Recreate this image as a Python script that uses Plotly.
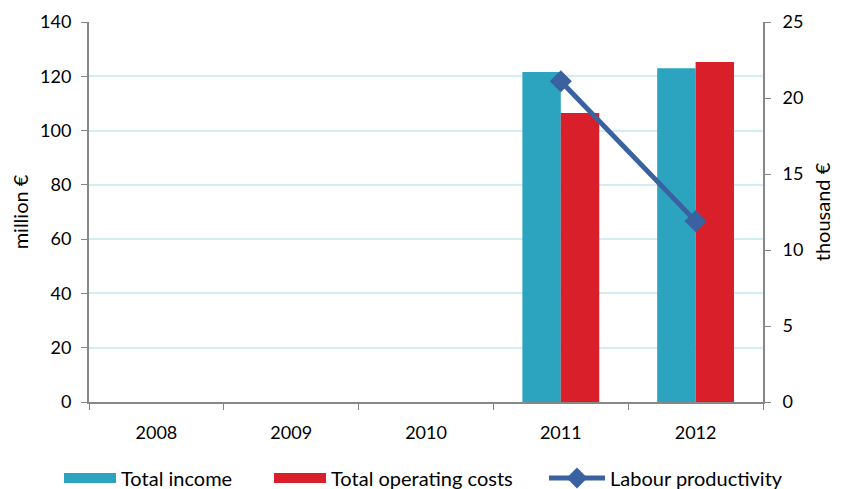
import plotly.graph_objects as go

# data
years = ["2008", "2009", "2010", "2011", "2012"]
total_income = [None, None, None, 121.6, 123.0]
total_operating_costs = [None, None, None, 106.5, 125.3]
labour_productivity = [None, None, None, 21.1, 11.9]

FONT = "Lato, Open Sans, sans-serif"
AXIS_GREY = "#878787"
TEAL = "#2CA3BF"
RED = "#D91F2A"
BLUE = "#3A62A0"

income = go.Bar(
    name="Total income",
    x=years,
    y=total_income,
    marker=dict(color=TEAL, line=dict(width=0)),
    showlegend=False,
)

costs = go.Bar(
    name="Total operating costs",
    x=years,
    y=total_operating_costs,
    marker=dict(color=RED, line=dict(width=0)),
    showlegend=False,
)

productivity = go.Scatter(
    name="Labour productivity",
    x=years,
    y=labour_productivity,
    yaxis="y2",
    mode="lines+markers",
    line=dict(color=BLUE, width=5),
    marker=dict(symbol="diamond", size=17, color=BLUE),
    legend="legend3",
)

# legend-only entries so the bar swatches are wide flat rectangles like the original
income_key = go.Scatter(
    name="Total income", x=[None], y=[None], mode="lines",
    line=dict(color=TEAL, width=12), legend="legend",
)
costs_key = go.Scatter(
    name="Total operating costs", x=[None], y=[None], mode="lines",
    line=dict(color=RED, width=12), legend="legend2",
)

# page has an 8px body margin, so the figure is drawn 8px in from top-left
# plot area on screen: x 89..763, y 22..402
PW, PH = 674, 380


def legend_at(symbol_px, width):
    # symbol_px = where the legend symbol should start on screen
    return dict(
        x=(symbol_px - 8 - 89) / PW,
        xanchor="left",
        y=(402 - 478) / PH,
        yanchor="middle",
        orientation="h",
        font=dict(size=20, family=FONT),
        bgcolor="rgba(0,0,0,0)",
        itemwidth=width,
    )


tick_font = dict(family=FONT, size=18, color="black")

layout = go.Layout(
    width=834,
    height=481,
    margin=dict(l=81, r=79, t=14, b=87, autoexpand=False),
    plot_bgcolor="white",
    paper_bgcolor="white",
    font=dict(family=FONT, size=17, color="black"),
    showlegend=True,
    barmode="group",
    bargap=0.43,
    bargroupgap=0,
    xaxis=dict(
        showgrid=False,
        zeroline=False,
        showline=True,
        linecolor=AXIS_GREY,
        linewidth=2,
        ticks="outside",
        tickson="boundaries",
        ticklen=6,
        tickcolor=AXIS_GREY,
        tickwidth=1,
        tickfont=tick_font,
        ticklabelstandoff=13,
        automargin=False,
    ),
    yaxis=dict(
        title=dict(text="million €", standoff=8),
        range=[0, 140],
        dtick=20,
        showgrid=True,
        gridcolor="#D3EDF4",
        gridwidth=2,
        zeroline=False,
        showline=True,
        linecolor=AXIS_GREY,
        linewidth=2,
        ticks="outside",
        ticklen=6,
        tickcolor=AXIS_GREY,
        tickfont=tick_font,
        ticklabelstandoff=6,
        automargin=False,
    ),
    yaxis2=dict(
        title=dict(text="thousand €", standoff=14),
        overlaying="y",
        side="right",
        range=[0, 25],
        dtick=5,
        showgrid=False,
        zeroline=False,
        showline=True,
        linecolor=AXIS_GREY,
        linewidth=2,
        ticks="outside",
        ticklen=6,
        tickcolor=AXIS_GREY,
        tickfont=tick_font,
        ticklabelstandoff=8,
        automargin=False,
    ),
    legend=legend_at(67, 52),
    legend2=legend_at(277, 52),
    legend3=legend_at(552, 56),
)

fig = go.Figure(
    data=[income, costs, productivity, income_key, costs_key], layout=layout
)
fig.write_html("out.html")
